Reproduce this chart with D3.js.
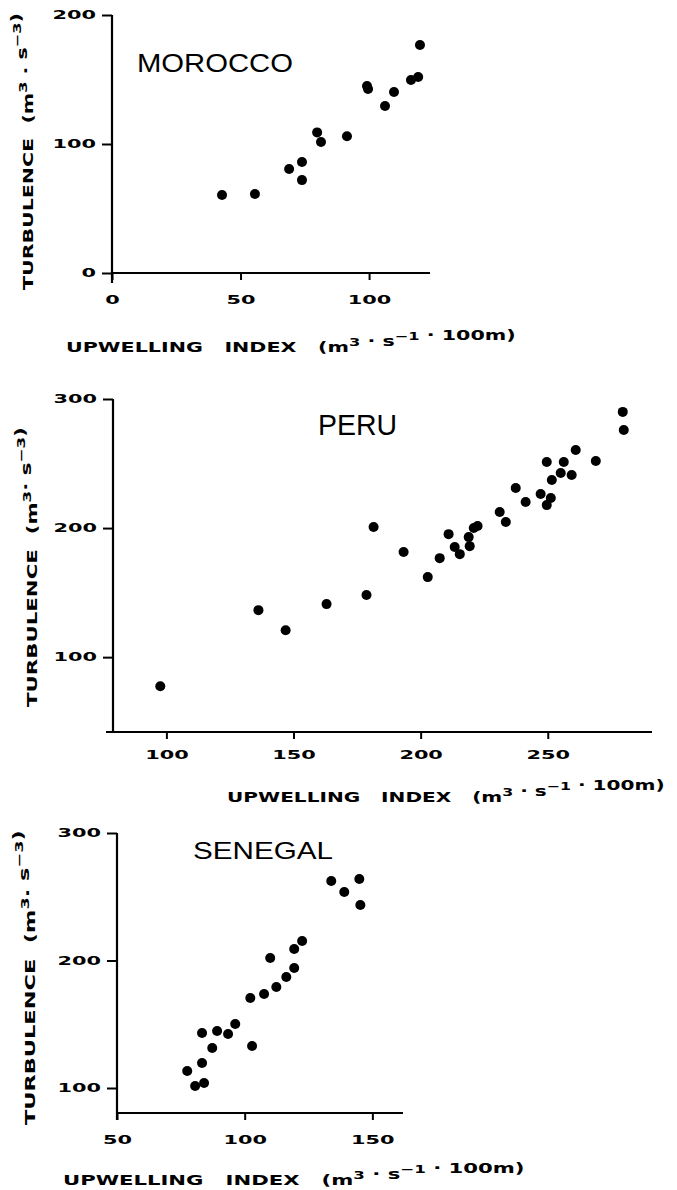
<!DOCTYPE html>
<html>
<head>
<meta charset="utf-8">
<script src="https://cdn.jsdelivr.net/npm/d3@7"></script>
<style>
  body { margin: 0; background: #fff; }
  svg { display: block; }
  .lbl { font-family: 'DejaVu Sans', sans-serif; font-weight: bold; white-space: pre; }
  .ttl { font-family: 'Liberation Sans', Arial, sans-serif; }
</style>
</head>
<body>
<script>
var width = 677
var height = 1190

// MOROCCO
var moroccoX = [42.8, 55.6, 68.9, 73.9, 73.9, 79.8, 81.3, 91.4, 99.2, 99.6, 106.2, 109.7, 116.3, 119.1, 119.8]
var moroccoY = [60.5, 61.2, 80.6, 86, 72, 109, 101.6, 106, 145, 142.6, 129.5, 140.3, 149.6, 151.9, 176.7]
var moroccoXDomain = [0, 123.7]
var moroccoYDomain = [0, 200]
var moroccoXTicks = [0, 50, 100]
var moroccoYTicks = [0, 100, 200]

// PERU
var peruX = [97.6, 136.2, 146.9, 163.0, 178.7, 181.5, 193.3, 202.8, 207.5, 211.0, 213.4, 215.4, 218.9, 219.3, 220.9, 222.4,
  231.1, 233.5, 237.4, 241.3, 247.2, 249.6, 251.2, 251.6, 249.6, 255.1, 256.3, 259.4, 261.0, 268.9, 279.5, 279.9]
var peruY = [77.5, 136.4, 120.9, 141.1, 148.1, 200.8, 181.4, 162.0, 176.7, 195.3, 185.3, 179.8, 193.0, 186.0, 200.0, 201.6,
  212.4, 204.7, 231.0, 220.2, 226.4, 217.8, 223.3, 237.2, 251.2, 242.6, 251.2, 241.1, 260.5, 252.0, 290.0, 276.0]
var peruXDomain = [79, 291]
var peruYDomain = [42, 300]
var peruXTicks = [100, 150, 200, 250]
var peruYTicks = [100, 200, 300]

// SENEGAL
var senegalX = [133.9, 139.0, 144.9, 145.3, 122.5, 119.4, 110.0, 119.4, 116.3, 112.4, 107.6, 102.2, 96.3, 93.5, 89.2,
  83.3, 87.3, 102.9, 83.3, 77.5, 80.6, 84.1]
var senegalY = [262.4, 253.7, 263.9, 243.5, 215.3, 209.0, 202.0, 194.1, 187.1, 179.2, 173.7, 170.6, 150.2, 142.4, 144.7,
  143.1, 131.4, 132.9, 119.6, 113.3, 101.6, 103.9]
var senegalXDomain = [50, 162]
var senegalYDomain = [80.4, 300]
var senegalXTicks = [50, 100, 150]
var senegalYTicks = [100, 200, 300]

var panels = [
  { name: 'MOROCCO', xs: moroccoX, ys: moroccoY, xd: moroccoXDomain, yd: moroccoYDomain, xt: moroccoXTicks, yt: moroccoYTicks,
    xr: [112, 430], yr: [273, 15], xPad: 15, yExt: 10, xExt: 0,
    title: { x: 137, y: 72, size: 26, len: 156 },
    xLab: { x0: 66, x1: 516, y: 352 }, yLab: { x: 33, y0: 290, y1: 13, sep: ' . ' } },
  { name: 'PERU', xs: peruX, ys: peruY, xd: peruXDomain, yd: peruYDomain, xt: peruXTicks, yt: peruYTicks,
    xr: [113, 652], yr: [732, 399], xPad: 11, yExt: 0, xExt: 7,
    title: { x: 318, y: 435, size: 29, len: 79 },
    xLab: { x0: 227, x1: 665, y: 802 }, yLab: { x: 37, y0: 707, y1: 427, sep: '· ' } },
  { name: 'SENEGAL', xs: senegalX, ys: senegalY, xd: senegalXDomain, yd: senegalYDomain, xt: senegalXTicks, yt: senegalYTicks,
    xr: [117, 403], yr: [1113, 833], xPad: 15, yExt: 7, xExt: 0,
    title: { x: 193, y: 859, size: 24, len: 140 },
    xLab: { x0: 63, x1: 525, y: 1185 }, yLab: { x: 35, y0: 1125, y1: 830, sep: '. ' } }
]

var svg = d3.select('body').append('svg')
  .attr('width', width)
  .attr('height', height)
  .style('background', '#fff')

panels.forEach(drawPanel)

function drawPanel(p) {
  var x = d3.scaleLinear().domain(p.xd).range(p.xr)
  var y = d3.scaleLinear().domain(p.yd).range(p.yr)
  var g = svg.append('g')

  // x axis
  var gx = g.append('g')
    .attr('transform', 'translate(0,' + p.yr[0] + ')')
    .call(d3.axisBottom(x).tickValues(p.xt).tickSize(7).tickSizeOuter(0).tickPadding(p.xPad).tickFormat(d3.format('d')))
  styleAxis(gx)
  // the x line starts a little left of the y axis on some panels
  gx.select('.domain').attr('d', 'M' + (p.xr[0] - p.xExt) + ',0H' + p.xr[1])

  // y axis
  var gy = g.append('g')
    .attr('transform', 'translate(' + p.xr[0] + ',0)')
    .call(d3.axisLeft(y).tickValues(p.yt).tickSize(10).tickSizeOuter(0).tickPadding(6).tickFormat(d3.format('d')))
  styleAxis(gy)
  // and the y line runs a little below the x axis
  gy.select('.domain').attr('d', 'M0,' + (p.yr[0] + p.yExt) + 'V' + p.yr[1])

  // points
  var data = p.xs.map(function(v, i) { return { x: v, y: p.ys[i] } })
  g.selectAll('circle')
    .data(data)
    .enter()
    .append('circle')
    .attr('cx', (d) => { return x(d.x) })
    .attr('cy', (d) => { return y(d.y) })
    .attr('r', 5)
    .style('fill', '#000')

  // panel title
  g.append('text')
    .attr('class', 'ttl')
    .attr('x', p.title.x)
    .attr('y', p.title.y)
    .attr('font-size', p.title.size)
    .attr('textLength', p.title.len)
    .attr('lengthAdjust', 'spacingAndGlyphs')
    .text(p.name)

  // x label, stretched to span the measured width
  var xl = g.append('text').attr('class', 'lbl').attr('font-size', 14)
  xl.append('tspan').text('UPWELLING   INDEX   (m')
  sup(xl, '3')
  xl.append('tspan').text(' · s')
  sup(xl, '−1')
  xl.append('tspan').text(' · 100m)')
  var wx = xl.node().getComputedTextLength()
  xl.attr('transform', 'translate(' + p.xLab.x0 + ',' + p.xLab.y + ') scale(' + ((p.xLab.x1 - p.xLab.x0) / wx) + ',1)')

  // y label, rotated
  var yl = g.append('text').attr('class', 'lbl').attr('font-size', 14)
  yl.append('tspan').text('TURBULENCE  (m')
  sup(yl, '3')
  yl.append('tspan').text(p.yLab.sep + 's')
  sup(yl, '−3')
  yl.append('tspan').text(')')
  var wy = yl.node().getComputedTextLength()
  yl.attr('transform', 'translate(' + p.yLab.x + ',' + p.yLab.y0 + ') rotate(-90) scale(' + ((p.yLab.y0 - p.yLab.y1) / wy) + ',1)')
}

function sup(t, s) {
  t.append('tspan').attr('dy', -6).attr('font-size', 11).text(s)
  t.append('tspan').attr('dy', 6).text('')
}

function styleAxis(a) {
  a.select('.domain').attr('stroke-width', 2.2).attr('stroke', '#000')
  a.selectAll('.tick line').attr('stroke-width', 2).attr('stroke', '#000')
  a.selectAll('.tick text')
    .attr('class', 'lbl')
    .attr('font-size', 12)
    .attr('fill', '#000')
    .attr('textLength', (d) => { return String(d).length * 14.5 })
    .attr('lengthAdjust', 'spacingAndGlyphs')
}
</script>
</body>
</html>
